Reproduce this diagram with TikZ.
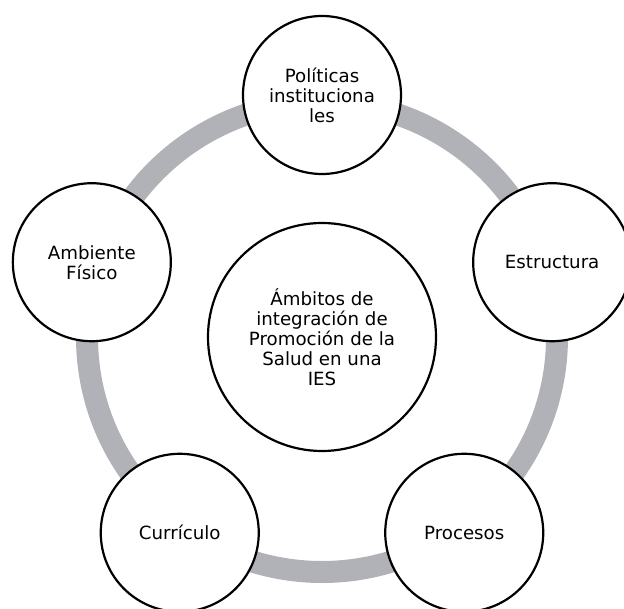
\documentclass[tikz,border=0pt]{standalone}
\usepackage{fontspec}
\setmainfont{DejaVu Sans}
\usetikzlibrary{positioning}
\definecolor{ringgray}{RGB}{176,178,183}
\tikzset{
      area circle/.style={
		circle,
		draw=black,
		line width=2.2pt,
		fill=white,
		minimum size={2*#1pt},
		inner sep=0pt,
		align=center,
		font=\fontsize{18.2}{20}\selectfont,
	  },
  		ring/.style={
    	draw=ringgray,
    	line width=22pt,
      }
  	}
\begin{document}
\begin{tikzpicture}[x=1pt, y=1pt]
    \useasboundingbox (-322,-271) rectangle (302,337);
    \clip (-322,-271) rectangle (302,337);
    \coordinate (hub) at (0,0);
    \draw [ring] (hub) circle [radius=235];
    \node [area circle=114] (0) at (hub) {Ámbitos de\\integración de\\Promoción de la\\Salud en una\\IES};
    \node [area circle=79] (1) at (90:242) {Políticas\\instituciona\\les};
    \node [area circle=79] (2) at (18:242) {Estructura};
    \node [area circle=79] (3) at (-54:242) {Procesos};
    \node [area circle=79] (4) at (-126:242) {Currículo};
    \node [area circle=79] (5) at (162:242) {Ambiente\\Físico};
  \end{tikzpicture}
\end{document}
